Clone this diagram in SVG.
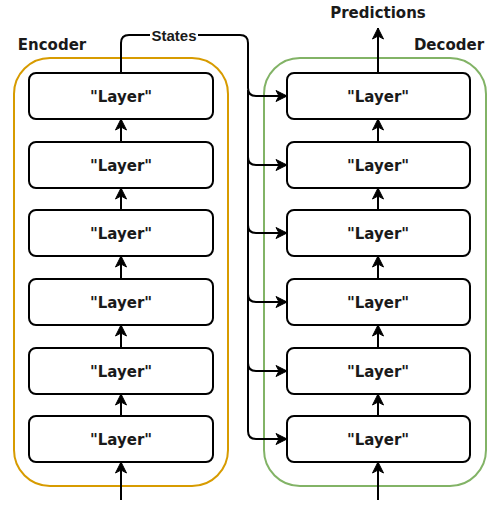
<svg xmlns="http://www.w3.org/2000/svg" width="500" height="509" viewBox="0 0 500 509">
<style>
.box{fill:#fff;stroke:#000;stroke-width:2}
.lbl{font-family:"DejaVu Sans",Verdana,sans-serif;font-weight:bold;font-size:15px;text-anchor:middle;fill:#1a1a1a}
.edge{fill:none;stroke:#000;stroke-width:2}
</style>
<defs>
<marker id="ah" markerUnits="userSpaceOnUse" markerWidth="14" markerHeight="14" viewBox="0 0 14 14" refX="12" refY="7" orient="auto">
<path d="M1,1.5 L12,7 L1,12.5 L4,7 Z" fill="#000" stroke="#000" stroke-width="1"/>
</marker>
</defs>
<rect width="500" height="509" fill="#fff"/>
<g id="encoder">
<rect x="14" y="58" width="214" height="428" rx="36" fill="none" stroke="#d79b00" stroke-width="2"/>
<text class="lbl" x="52" y="50">Encoder</text>
</g>
<g id="decoder">
<rect x="264" y="58" width="222" height="428" rx="36" fill="none" stroke="#82b366" stroke-width="2"/>
<text class="lbl" x="449" y="50">Decoder</text>
</g>
<g id="enc-layers">
<g id="enc1"><rect class="box" x="29" y="73" width="184" height="46" rx="7"/><text class="lbl" x="121" y="102">"Layer"</text></g>
<g id="enc2"><rect class="box" x="29" y="142" width="184" height="46" rx="7"/><text class="lbl" x="121" y="171">"Layer"</text></g>
<g id="enc3"><rect class="box" x="29" y="210" width="184" height="46" rx="7"/><text class="lbl" x="121" y="239">"Layer"</text></g>
<g id="enc4"><rect class="box" x="29" y="279" width="184" height="46" rx="7"/><text class="lbl" x="121" y="308">"Layer"</text></g>
<g id="enc5"><rect class="box" x="29" y="348" width="184" height="46" rx="7"/><text class="lbl" x="121" y="377">"Layer"</text></g>
<g id="enc6"><rect class="box" x="29" y="416" width="184" height="46" rx="7"/><text class="lbl" x="121" y="445">"Layer"</text></g>
</g>
<g id="dec-layers">
<g id="dec1"><rect class="box" x="287" y="73" width="183" height="46" rx="7"/><text class="lbl" x="378" y="102">"Layer"</text></g>
<g id="dec2"><rect class="box" x="287" y="142" width="183" height="46" rx="7"/><text class="lbl" x="378" y="171">"Layer"</text></g>
<g id="dec3"><rect class="box" x="287" y="210" width="183" height="46" rx="7"/><text class="lbl" x="378" y="239">"Layer"</text></g>
<g id="dec4"><rect class="box" x="287" y="279" width="183" height="46" rx="7"/><text class="lbl" x="378" y="308">"Layer"</text></g>
<g id="dec5"><rect class="box" x="287" y="348" width="183" height="46" rx="7"/><text class="lbl" x="378" y="377">"Layer"</text></g>
<g id="dec6"><rect class="box" x="287" y="416" width="183" height="46" rx="7"/><text class="lbl" x="378" y="445">"Layer"</text></g>
</g>
<g id="connectors">
<path class="edge" marker-end="url(#ah)" d="M121,500 V462"/>
<path class="edge" marker-end="url(#ah)" d="M121,416 V394"/>
<path class="edge" marker-end="url(#ah)" d="M121,348 V325"/>
<path class="edge" marker-end="url(#ah)" d="M121,279 V256"/>
<path class="edge" marker-end="url(#ah)" d="M121,210 V188"/>
<path class="edge" marker-end="url(#ah)" d="M121,142 V119"/>
<path class="edge" marker-end="url(#ah)" d="M378,500 V462"/>
<path class="edge" marker-end="url(#ah)" d="M378,416 V394"/>
<path class="edge" marker-end="url(#ah)" d="M378,348 V325"/>
<path class="edge" marker-end="url(#ah)" d="M378,279 V256"/>
<path class="edge" marker-end="url(#ah)" d="M378,210 V188"/>
<path class="edge" marker-end="url(#ah)" d="M378,142 V119"/>
<path class="edge" marker-end="url(#ah)" d="M378,73 V28"/>
<path class="edge" marker-end="url(#ah)" d="M121,73 V43 Q121,35 129,35 H240 Q248,35 248,43 V88 Q248,96 256,96 H287"/>
<path class="edge" marker-end="url(#ah)" d="M248,90 V157 Q248,165 256,165 H287"/>
<path class="edge" marker-end="url(#ah)" d="M248,157 V225 Q248,233 256,233 H287"/>
<path class="edge" marker-end="url(#ah)" d="M248,225 V294 Q248,302 256,302 H287"/>
<path class="edge" marker-end="url(#ah)" d="M248,294 V363 Q248,371 256,371 H287"/>
<path class="edge" marker-end="url(#ah)" d="M248,363 V431 Q248,439 256,439 H287"/>
<rect x="150" y="27" width="48" height="17" fill="#fff"/>
<text x="174" y="41" font-family="Liberation Sans,Arial,sans-serif" font-size="15" text-anchor="middle" fill="#1a1a1a" font-weight="bold">States</text>
</g>
<text class="lbl" x="378" y="18">Predictions</text>
</svg>
